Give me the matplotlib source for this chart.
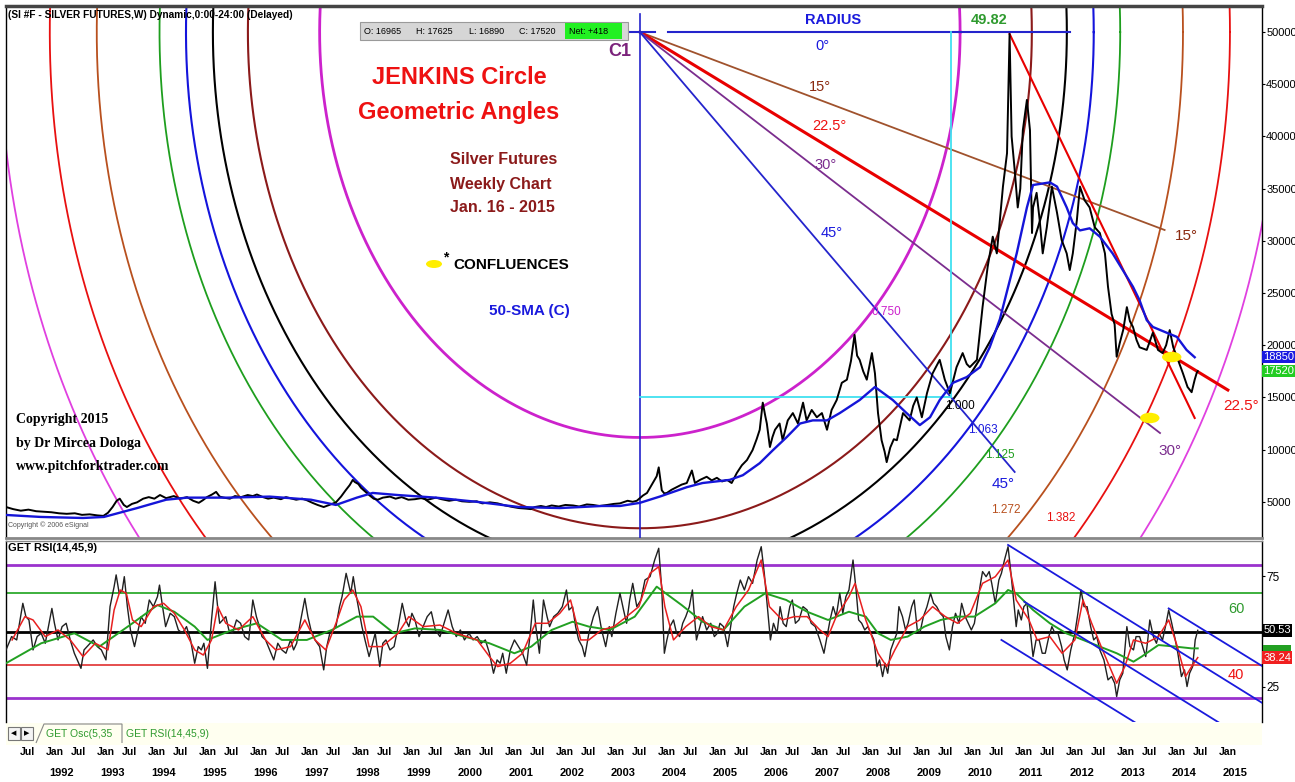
import numpy as np
import matplotlib
matplotlib.use('Agg')
import matplotlib.pyplot as plt
import matplotlib.transforms as mtransforms
from matplotlib import font_manager
from matplotlib.patches import Ellipse, Rectangle, Polygon

W, H = 1295, 782
_names = {f.name for f in font_manager.fontManager.ttflist}
NARROW = 'Liberation Sans Narrow' if 'Liberation Sans Narrow' in _names else 'Liberation Sans'
SERIF = 'Liberation Serif'

##### data #####

# weekly silver futures (close), cents*100 ; t = decimal year
price_t = [1991.61, 1991.75, 1991.90, 1992.05, 1992.20, 1992.35, 1992.50, 1992.65, 1992.80, 1992.96,
           1993.10, 1993.25, 1993.40, 1993.52, 1993.61, 1993.70, 1993.78, 1993.84, 1993.92, 1993.98,
           1994.08, 1994.18, 1994.30, 1994.41, 1994.52, 1994.63, 1994.75, 1994.90, 1995.03, 1995.16,
           1995.28, 1995.39, 1995.47, 1995.55, 1995.65, 1995.73, 1995.80, 1995.88, 1996.00, 1996.10,
           1996.22, 1996.35, 1996.45, 1996.53, 1996.65, 1996.75, 1996.86, 1997.00, 1997.10, 1997.18,
           1997.30, 1997.42, 1997.51, 1997.62, 1997.72, 1997.84, 1997.95, 1998.08, 1998.18, 1998.27,
           1998.35, 1998.41, 1998.45, 1998.52, 1998.57, 1998.65, 1998.73, 1998.82, 1998.90, 1999.00,
           1999.14, 1999.25, 1999.37, 1999.50, 1999.63, 1999.75, 1999.88, 2000.04, 2000.15, 2000.30,
           2000.43, 2000.55, 2000.70, 2000.84, 2000.95, 2001.10, 2001.25, 2001.40, 2001.55, 2001.67,
           2001.80, 2001.90, 2001.98, 2002.10, 2002.20, 2002.31, 2002.45, 2002.58, 2002.73, 2002.85,
           2003.00, 2003.12, 2003.25, 2003.40, 2003.53, 2003.65, 2003.80, 2003.90, 2003.98, 2004.10,
           2004.18, 2004.28, 2004.37, 2004.41, 2004.44, 2004.47, 2004.52, 2004.57, 2004.66, 2004.76,
           2004.86, 2004.96, 2005.06, 2005.12, 2005.22, 2005.35, 2005.45, 2005.55, 2005.65, 2005.75,
           2005.84, 2005.94, 2006.04, 2006.14, 2006.25, 2006.33, 2006.39, 2006.45, 2006.50, 2006.53,
           2006.59, 2006.64, 2006.69, 2006.78, 2006.84, 2006.94, 2007.04, 2007.14, 2007.24, 2007.31,
           2007.41, 2007.51, 2007.61, 2007.71, 2007.80, 2007.90, 2008.00, 2008.10, 2008.18, 2008.25,
           2008.30, 2008.35, 2008.42, 2008.49, 2008.59, 2008.65, 2008.71, 2008.78, 2008.84, 2008.88,
           2008.95, 2009.02, 2009.08, 2009.20, 2009.33, 2009.40, 2009.47, 2009.57, 2009.67, 2009.78,
           2009.92, 2010.02, 2010.12, 2010.25, 2010.37, 2010.45, 2010.51, 2010.65, 2010.76, 2010.86,
           2010.96, 2011.04, 2011.10, 2011.16, 2011.24, 2011.29, 2011.33, 2011.39, 2011.45, 2011.50,
           2011.55, 2011.63, 2011.69, 2011.73, 2011.75, 2011.82, 2011.88, 2011.94, 2012.02, 2012.12,
           2012.22, 2012.31, 2012.41, 2012.47, 2012.53, 2012.61, 2012.67, 2012.76, 2012.86, 2012.96,
           2013.06, 2013.16, 2013.22, 2013.29, 2013.35, 2013.39, 2013.45, 2013.52, 2013.59, 2013.65,
           2013.71, 2013.78, 2013.84, 2013.98, 2014.10, 2014.20, 2014.29, 2014.36, 2014.43, 2014.50,
           2014.57, 2014.69, 2014.78, 2014.86, 2014.92, 2014.96, 2014.98]
price_v = [4500, 4300, 4150, 4250, 4100, 4050, 4000, 3900, 3850, 3900,
           3750, 3800, 3700, 3650, 3950, 4500, 5100, 5300, 4700, 4500,
           4800, 4950, 5300, 5450, 5300, 5650, 5350, 5550, 5300, 5450,
           5100, 4900, 5150, 5450, 5700, 5950, 5500, 5400, 5300, 5550,
           5450, 5650, 5550, 5700, 5450, 5300, 5400, 5250, 5450, 5350,
           5200, 5300, 5150, 4900, 4700, 4500, 4700, 4950, 5500, 6100,
           6600, 7100, 6900, 6700, 6350, 6000, 5650, 5300, 5200, 5400,
           5500, 5300, 5450, 5200, 5250, 5350, 5200, 5400, 5250, 5100,
           5200, 5050, 5000, 5050, 4850, 4950, 4850, 4650, 4500, 4400,
           4350, 4300, 4500, 4600, 4500, 4650, 4550, 4700, 4650, 4550,
           4750, 4700, 4600, 4700, 4800, 4850, 5100, 5000, 5100, 5600,
           5850, 6700, 7450, 8300, 7200, 6100, 5800, 5850, 6150, 6400,
           6650, 6800, 8000, 6800, 7100, 7400, 7050, 7300, 6950, 7100,
           6800, 7750, 8500, 9000, 9950, 11000, 11900, 14500, 13200, 12500,
           10250, 11200, 11900, 12500, 10900, 12800, 13500, 12500, 14500, 12800,
           13800, 13100, 13500, 11900, 13800, 14750, 16400, 16700, 18500, 21000,
           19000, 18600, 17500, 16700, 19250, 17300, 13500, 10900, 9800, 8800,
           10200, 11000, 10900, 13500, 12800, 14200, 15000, 13100, 15400, 17300,
           18600, 16700, 15400, 17900, 19250, 18200, 17900, 18600, 23650, 27500,
           30400, 28800, 32000, 35200, 38400, 49820, 40000, 36800, 33200, 35000,
           40600, 43500, 40600, 30750, 33200, 34600, 32000, 28800, 31300, 35200,
           32700, 30100, 28800, 27200, 28800, 32000, 35200, 33900, 33200, 31300,
           30750, 28800, 25600, 23000, 22000, 18900, 20200, 21500, 23650, 22300,
           21750, 20500, 19800, 19550, 21200, 19550, 19250, 20000, 21450, 19800,
           18900, 17300, 16000, 15500, 16700, 17350, 17520]

# 50-SMA (C)
sma_t = [1991.61, 1992.29, 1993.12, 1993.53, 1994.18, 1994.75, 1995.16, 1995.96, 1996.78, 1997.59,
         1998.08, 1998.49, 1998.80, 1999.29, 2000.04, 2000.84, 2001.67, 2002.47, 2003.29, 2003.65,
         2004.04, 2004.43, 2004.96, 2005.27, 2005.80, 2006.06, 2006.39, 2006.65, 2006.92, 2007.18,
         2007.43, 2007.71, 2007.96, 2008.35, 2008.65, 2009.00, 2009.27, 2009.53, 2009.73, 2009.92,
         2010.18, 2010.45, 2010.71, 2010.90, 2011.10, 2011.43, 2011.63, 2011.75, 2012.08, 2012.22,
         2012.41, 2012.53, 2012.67, 2012.86, 2013.06, 2013.31, 2013.71, 2013.84, 2013.98, 2014.10,
         2014.37, 2014.57, 2014.76, 2014.92]
sma_v = [3740, 3550, 3450, 3550, 4400, 5200, 5400, 5400, 5500, 5200,
         4700, 5400, 5850, 5650, 5400, 5000, 4500, 4400, 4600, 4600,
         4900, 5500, 6400, 6800, 7100, 7550, 8700, 9950, 11200, 12500,
         12800, 12800, 13500, 14750, 16000, 14750, 13500, 12350, 13100, 14750,
         16400, 16950, 17900, 19800, 22500, 28800, 33200, 35350, 35600, 35200,
         33200, 31700, 31000, 31200, 30400, 28800, 25600, 24300, 22400, 21750,
         21200, 20800, 19550, 18850]

# GET RSI(14,45,9): raw line
rsi_t = [1991.61, 1991.72, 1991.82, 1991.94, 1992.00, 1992.06, 1992.14, 1992.22, 1992.30, 1992.38,
         1992.51, 1992.56, 1992.63, 1992.71, 1992.79, 1992.87, 1992.95, 1993.08, 1993.14, 1993.20,
         1993.32, 1993.40, 1993.48, 1993.57, 1993.65, 1993.73, 1993.77, 1993.83, 1993.89, 1993.93,
         1993.99, 1994.05, 1994.13, 1994.26, 1994.34, 1994.42, 1994.50, 1994.58, 1994.62, 1994.68,
         1994.74, 1994.83, 1994.91, 1994.99, 1995.07, 1995.15, 1995.23, 1995.31, 1995.38, 1995.44,
         1995.49, 1995.56, 1995.64, 1995.71, 1995.76, 1995.80, 1995.92, 1995.98, 1996.05, 1996.13,
         1996.21, 1996.29, 1996.37, 1996.45, 1996.52, 1996.58, 1996.63, 1996.70, 1996.78, 1996.86,
         1996.94, 1997.02, 1997.10, 1997.19, 1997.25, 1997.31, 1997.39, 1997.47, 1997.53, 1997.59,
         1997.67, 1997.76, 1997.84, 1997.90, 1997.96, 1998.08, 1998.15, 1998.20, 1998.28, 1998.37,
         1998.42, 1998.47, 1998.53, 1998.59, 1998.65, 1998.73, 1998.80, 1998.85, 1998.94, 1999.00,
         1999.06, 1999.14, 1999.22, 1999.30, 1999.38, 1999.45, 1999.51, 1999.57, 1999.63, 1999.71,
         1999.79, 1999.87, 1999.95, 2000.03, 2000.12, 2000.20, 2000.28, 2000.36, 2000.44, 2000.52,
         2000.60, 2000.69, 2000.77, 2000.85, 2000.93, 2001.01, 2001.09, 2001.17, 2001.24, 2001.30,
         2001.35, 2001.42, 2001.50, 2001.58, 2001.66, 2001.74, 2001.82, 2001.89, 2001.95, 2002.00,
         2002.07, 2002.15, 2002.22, 2002.27, 2002.35, 2002.43, 2002.52, 2002.60, 2002.65, 2002.72,
         2002.78, 2002.84, 2002.91, 2002.96, 2003.04, 2003.13, 2003.21, 2003.29, 2003.37, 2003.44,
         2003.49, 2003.57, 2003.65, 2003.72, 2003.78, 2003.84, 2003.90, 2003.98, 2004.06, 2004.14,
         2004.24, 2004.33, 2004.41, 2004.47, 2004.52, 2004.57, 2004.63, 2004.70, 2004.76, 2004.82,
         2004.88, 2004.94, 2005.01, 2005.07, 2005.11, 2005.15, 2005.20, 2005.27, 2005.35, 2005.43,
         2005.50, 2005.56, 2005.61, 2005.68, 2005.76, 2005.83, 2005.88, 2005.94, 2006.01, 2006.09,
         2006.17, 2006.25, 2006.34, 2006.42, 2006.48, 2006.54, 2006.60, 2006.66, 2006.73, 2006.79,
         2006.85, 2006.91, 2006.98, 2007.03, 2007.09, 2007.16, 2007.24, 2007.32, 2007.40, 2007.48,
         2007.57, 2007.65, 2007.71, 2007.77, 2007.83, 2007.89, 2007.96, 2008.02, 2008.08, 2008.14,
         2008.22, 2008.28, 2008.33, 2008.39, 2008.45, 2008.51, 2008.57, 2008.63, 2008.69, 2008.74,
         2008.80, 2008.85, 2008.90, 2008.96, 2009.03, 2009.08, 2009.12, 2009.19, 2009.25, 2009.30,
         2009.37, 2009.42, 2009.48, 2009.53, 2009.60, 2009.67, 2009.74, 2009.80, 2009.86, 2009.93,
         2009.99, 2010.04, 2010.11, 2010.17, 2010.23, 2010.30, 2010.35, 2010.42, 2010.48, 2010.54,
         2010.60, 2010.67, 2010.72, 2010.76, 2010.83, 2010.89, 2010.94, 2011.01, 2011.08, 2011.13,
         2011.19, 2011.26, 2011.31, 2011.35, 2011.42, 2011.46, 2011.52, 2011.57, 2011.63, 2011.68,
         2011.75, 2011.81, 2011.87, 2011.93, 2011.99, 2012.06, 2012.12, 2012.18, 2012.24, 2012.31,
         2012.36, 2012.42, 2012.49, 2012.57, 2012.63, 2012.69, 2012.75, 2012.81, 2012.88, 2012.94,
         2013.00, 2013.06, 2013.14, 2013.22, 2013.29, 2013.35, 2013.39, 2013.45, 2013.51, 2013.55,
         2013.59, 2013.65, 2013.72, 2013.77, 2013.84, 2013.90, 2013.96, 2014.00, 2014.04, 2014.11,
         2014.17, 2014.22, 2014.29, 2014.36, 2014.41, 2014.47, 2014.54, 2014.59, 2014.66, 2014.72,
         2014.77, 2014.82, 2014.88, 2014.93, 2014.98]
rsi_v = [41.7, 47.7, 46.2, 62.7, 56.7, 55.2, 41.7, 47.7, 49.2, 44.7,
         60.4, 53.7, 46.2, 52.2, 53.7, 46.2, 40.2, 33.4, 41.7, 43.2,
         46.2, 43.2, 41.7, 37.2, 61.2, 70.2, 75.5, 67.2, 68.7, 74.7,
         61.2, 50.7, 43.2, 56.7, 53.7, 64.2, 61.2, 65.7, 70.9, 61.2,
         52.2, 58.2, 56.7, 50.7, 49.2, 52.2, 46.2, 35.7, 43.2, 41.7,
         44.7, 33.4, 55.2, 72.4, 61.2, 53.7, 56.7, 50.7, 49.2, 55.2,
         53.7, 47.7, 46.2, 64.2, 56.7, 52.2, 47.7, 46.2, 41.7, 37.2,
         44.7, 41.7, 40.2, 46.2, 41.7, 44.7, 55.2, 64.9, 56.7, 50.7,
         46.2, 43.2, 32.7, 43.2, 49.2, 52.2, 61.2, 65.7, 76.2, 67.2,
         74.7, 67.2, 59.7, 52.2, 46.2, 38.7, 44.7, 49.2, 34.2, 44.7,
         46.2, 41.7, 43.2, 52.2, 62.7, 55.2, 52.2, 58.2, 55.2, 47.7,
         52.2, 56.7, 58.9, 50.7, 47.7, 53.7, 59.7, 52.2, 47.7, 50.7,
         46.2, 49.2, 46.2, 47.7, 44.7, 46.2, 40.2, 31.2, 37.2, 35.7,
         40.2, 31.2, 41.7, 46.2, 43.2, 40.2, 34.9, 49.2, 64.2, 52.2,
         40.2, 64.2, 56.7, 52.2, 56.7, 58.2, 61.2, 68.7, 59.7, 61.2,
         52.2, 46.2, 43.2, 38.7, 49.2, 56.7, 61.2, 50.7, 43.2, 52.2,
         47.7, 58.2, 67.2, 59.7, 53.7, 64.2, 71.7, 61.2, 64.2, 73.2,
         74.7, 82.2, 87.5, 68.7, 40.2, 46.2, 52.2, 55.2, 49.2, 47.7,
         53.7, 56.7, 61.2, 68.7, 56.7, 46.2, 50.7, 56.7, 50.7, 53.7,
         47.7, 49.2, 53.7, 52.2, 43.2, 53.7, 61.2, 67.2, 73.2, 68.7,
         74.7, 71.7, 82.2, 88.2, 76.2, 61.2, 46.2, 53.7, 49.2, 61.2,
         53.7, 52.2, 61.2, 64.2, 53.7, 55.2, 61.2, 59.7, 53.7, 52.2,
         46.2, 40.2, 47.7, 55.2, 61.2, 56.7, 67.2, 58.2, 65.7, 68.7,
         82.2, 68.7, 55.2, 53.7, 50.7, 52.2, 49.2, 46.2, 34.2, 37.2,
         29.7, 35.7, 31.2, 41.7, 46.2, 49.2, 61.2, 56.7, 50.7, 53.7,
         61.2, 64.2, 50.7, 49.2, 56.7, 61.2, 67.2, 62.7, 61.2, 58.2,
         56.7, 47.7, 41.7, 52.2, 58.2, 53.7, 62.7, 56.7, 53.7, 50.7,
         53.7, 64.2, 71.7, 77.0, 74.7, 77.0, 71.7, 62.7, 73.2, 76.2,
         82.2, 88.2, 77.7, 68.7, 52.2, 59.7, 55.2, 61.2, 62.7, 53.7,
         38.7, 46.2, 46.2, 40.2, 40.2, 47.7, 52.2, 49.2, 49.2, 43.2,
         37.2, 32.7, 41.7, 49.2, 58.2, 68.7, 61.2, 61.2, 52.2, 46.2,
         47.7, 41.7, 37.2, 28.2, 29.7, 26.7, 20.7, 28.2, 31.2, 41.7,
         52.2, 43.2, 41.7, 47.7, 47.7, 43.2, 38.7, 46.2, 55.2, 47.7,
         44.7, 49.2, 46.2, 53.7, 59.7, 53.7, 46.2, 40.2, 29.7, 32.7,
         25.2, 31.2, 34.2, 46.2, 50.53]

# signal line (red)
sig_t = [1991.73, 1991.98, 1992.14, 1992.38, 1992.63, 1992.87, 1993.12, 1993.36, 1993.61, 1993.73,
         1993.85, 1993.97, 1994.09, 1994.26, 1994.50, 1994.70, 1994.91, 1995.11, 1995.31, 1995.48,
         1995.64, 1995.76, 1995.92, 1996.17, 1996.45, 1996.70, 1996.90, 1997.19, 1997.47, 1997.67,
         1997.88, 1998.08, 1998.24, 1998.41, 1998.57, 1998.73, 1998.98, 1999.30, 1999.51, 1999.79,
         2000.12, 2000.44, 2000.85, 2001.09, 2001.25, 2001.50, 2001.74, 2001.99, 2002.23, 2002.47,
         2002.68, 2002.88, 2003.04, 2003.29, 2003.53, 2003.78, 2004.02, 2004.24, 2004.41, 2004.53,
         2004.70, 2004.94, 2005.19, 2005.43, 2005.68, 2005.93, 2006.17, 2006.42, 2006.58, 2006.83,
         2007.07, 2007.32, 2007.57, 2007.73, 2007.89, 2008.14, 2008.26, 2008.47, 2008.71, 2008.88,
         2009.04, 2009.29, 2009.53, 2009.78, 2010.03, 2010.27, 2010.52, 2010.76, 2011.01, 2011.26,
         2011.42, 2011.67, 2011.83, 2012.08, 2012.32, 2012.57, 2012.73, 2012.90, 2013.14, 2013.39,
         2013.55, 2013.72, 2013.96, 2014.21, 2014.41, 2014.58, 2014.74, 2014.86, 2014.98]
sig_v = [46.2, 56.7, 55.2, 47.7, 50.7, 46.2, 38.7, 44.7, 41.7, 59.7,
         68.7, 67.2, 55.2, 52.2, 61.2, 62.7, 58.2, 50.7, 41.7, 39.4,
         46.2, 61.2, 53.7, 50.7, 56.7, 46.2, 41.7, 43.2, 55.2, 46.2,
         41.7, 53.7, 64.2, 68.7, 61.2, 43.2, 43.2, 49.2, 56.7, 52.2,
         52.9, 49.2, 46.2, 38.7, 34.2, 35.7, 40.2, 53.7, 53.7, 58.2,
         64.2, 46.2, 46.2, 50.7, 52.2, 56.7, 61.2, 76.2, 79.2, 61.2,
         46.2, 52.2, 56.7, 52.2, 50.7, 61.2, 68.7, 82.2, 61.2, 55.2,
         56.7, 56.7, 50.7, 47.7, 56.7, 65.7, 71.7, 55.2, 40.2, 34.2,
         41.7, 52.2, 55.2, 61.2, 56.7, 53.7, 58.2, 71.7, 74.7, 82.2,
         64.2, 55.2, 46.2, 47.7, 40.2, 46.2, 64.2, 53.7, 40.2, 26.7,
         34.2, 46.2, 44.7, 47.7, 55.2, 43.2, 29.7, 34.2, 38.24]

# long average (green)
ma_t = [1991.61, 1992.30, 1992.95, 1993.44, 1994.09, 1994.58, 1994.91, 1995.31, 1995.56, 1996.05,
        1996.53, 1997.02, 1997.51, 1998.00, 1998.49, 1998.81, 1999.22, 1999.63, 2000.12, 2000.60,
        2001.09, 2001.58, 2001.91, 2002.31, 2002.72, 2003.04, 2003.45, 2003.94, 2004.37, 2004.86,
        2005.27, 2005.68, 2006.09, 2006.50, 2006.91, 2007.32, 2007.73, 2008.14, 2008.47, 2008.71,
        2008.96, 2009.29, 2009.62, 2009.94, 2010.27, 2010.60, 2011.01, 2011.26, 2011.42, 2011.75,
        2012.08, 2012.40, 2012.73, 2013.06, 2013.39, 2013.72, 2013.88, 2014.21, 2014.54, 2014.86,
        2014.98]
ma_v = [35.7, 44.7, 49.2, 43.2, 53.7, 61.9, 58.9, 52.2, 46.2, 50.7,
        53.7, 46.2, 46.2, 50.7, 56.7, 56.7, 49.2, 51.4, 50.7, 47.7,
        44.7, 40.2, 43.2, 50.7, 54.4, 52.2, 50.7, 56.7, 70.2, 61.9,
        54.4, 50.7, 61.2, 67.2, 64.2, 58.9, 55.2, 58.9, 56.7, 49.2,
        46.2, 47.7, 52.2, 55.2, 56.7, 56.7, 62.7, 68.7, 67.2, 59.7,
        53.7, 49.2, 46.2, 43.2, 40.2, 36.4, 38.7, 43.9, 43.2, 42.4,
        42.4]

rsi_levels = [80, 67.3, 50, 35, 20]
rsi_level_colors = ['#9A32CD', '#2EAA2E', 'black', '#E03030', '#9A32CD']
rsi_level_widths = [2.0, 1.3, 2.0, 1.2, 2.0]

# Jenkins circle: centre C1, unit radius (time, price) and ratios
c1_t, c1_p = 2004.04, 50000
unit_t, unit_p = 8.373, 51780
circle_ratios = [0.75, 0.918, 1.0, 1.063, 1.125, 1.272, 1.382, 1.5]
circle_colors = ['#CC22CC', '#8B1A1A', 'black', '#1414DC', '#1E9E1E', '#B8501E', '#E81010', '#E040E0']
circle_widths = [2.0, 1.5, 1.5, 1.5, 1.3, 1.3, 1.3, 1.3]

# rays from C1
ray_end_t = [2014.33, 2015.57, 2014.24, 2011.39]
ray_end_p = [31040, 15710, 11590, 7860]
ray_colors = ['#A0522D', '#E80000', '#7B2D8E', '#2424CC']
ray_widths = [1.3, 2.2, 1.3, 1.3]

# line from the 49.82 top
top_line_t = [2011.29, 2014.92]
top_line_p = [49820, 13030]

# radius line (0 deg), in two pieces
radius_t = [[2003.73, 2004.33], [2004.59, 2012.47]]
# cyan box
cyan_t, cyan_p = 2010.14, 15040

# confluences
conf_t = [2014.04, 2014.47]
conf_p = [13030, 18870]

# RSI down channel
chan_t0 = [2011.26, 2011.58, 2011.13, 2014.41]
chan_v0 = [89.0, 63.4, 46.2, 60.4]
chan_t1 = [2016.26, 2015.40, 2013.76, 2016.26]
chan_v1 = [17.6, 8.9, 8.9, 34.2]

price_ticks = [5000, 10000, 15000, 20000, 25000, 30000, 35000, 40000, 45000, 50000]
rsi_ticks = [25, 75]
years = list(range(1992, 2016))

##### figure #####
fig = plt.figure(figsize=(W / 100, H / 100), dpi=100)
fig.patch.set_facecolor('white')


def box(x0, y0, x1, y1):
    return [x0 / W, 1 - y1 / H, (x1 - x0) / W, (y1 - y0) / H]


def ftext(x, y, s, **kw):
    kw.setdefault('va', 'center')
    kw.setdefault('ha', 'center')
    kw.setdefault('family', NARROW)
    return fig.text(x / W, 1 - y / H, s, **kw)


ax = fig.add_axes(box(6, 6, 1262, 538))
axr = fig.add_axes(box(6, 541, 1262, 722), sharex=ax)

ax.set_xlim(1991.61, 2016.24)
ax.set_ylim(1533, 52498)
axr.set_ylim(9.23, 90.77)

# circles
theta = np.linspace(0, 2 * np.pi, 1441)
for k, col, lw in zip(circle_ratios, circle_colors, circle_widths):
    ax.plot(c1_t + unit_t * k * np.cos(theta), c1_p + unit_p * k * np.sin(theta),
            color=col, lw=lw, zorder=2)

# rays
for te, pe, col, lw in zip(ray_end_t, ray_end_p, ray_colors, ray_widths):
    ax.plot([c1_t, te], [c1_p, pe], color=col, lw=lw, zorder=3)
ax.plot(top_line_t, top_line_p, color='#E80000', lw=1.5, zorder=3)
for seg in radius_t:
    ax.plot(seg, [c1_p, c1_p], color='#2424CC', lw=1.5, zorder=3)
ax.plot([c1_t, c1_t], [51700, 0], color='#2424CC', lw=1.2, zorder=3)
ax.plot([cyan_t, cyan_t], [c1_p, cyan_p], color='#40E0F0', lw=1.3, zorder=3)
ax.plot([c1_t, cyan_t], [cyan_p, cyan_p], color='#40E0F0', lw=1.3, zorder=3)

# price and SMA
ax.plot(price_t, price_v, color='black', lw=1.4, zorder=5)
ax.plot(sma_t, sma_v, color='#1515D8', lw=1.7, zorder=6)

for t, p in zip(conf_t, conf_p):
    ax.add_patch(Ellipse((t, p), 0.38, 1000, fc='#FFEE00', ec='none', zorder=7))

# axes cosmetics
for a in (ax, axr):
    a.set_xticks([])
    a.yaxis.tick_right()
    a.tick_params(axis='y', length=2, pad=1, labelsize=8, direction='out')
    for s in a.spines.values():
        s.set_color('black')
        s.set_linewidth(1)
ax.spines['top'].set_linewidth(2.5)
ax.spines['top'].set_color('#444444')
ax.spines['bottom'].set_color('#888888')
ax.spines['bottom'].set_linewidth(2)
axr.spines['top'].set_color('#888888')
axr.spines['bottom'].set_visible(False)

ax.set_yticks(price_ticks)
ax.set_yticklabels([str(v) for v in price_ticks], family=NARROW, fontsize=8)
axr.set_yticks(rsi_ticks)
axr.set_yticklabels([str(v) for v in rsi_ticks], family=NARROW, fontsize=8.5)

# price tags on right axis
tr = mtransforms.blended_transform_factory(ax.transAxes, ax.transData)
ax.text(1.001, sma_v[-1], str(sma_v[-1]), transform=tr, ha='left', va='center', fontsize=8,
        family=NARROW, color='white', clip_on=False, zorder=10,
        bbox=dict(boxstyle='square,pad=0.1', fc='#1A1AE0', ec='none'))
ax.text(1.001, price_v[-1], str(price_v[-1]), transform=tr, ha='left', va='center', fontsize=8,
        family=NARROW, color='white', clip_on=False, zorder=10,
        bbox=dict(boxstyle='square,pad=0.1', fc='#22CC22', ec='none'))

# RSI panel
for lv, col, lw in zip(rsi_levels, rsi_level_colors, rsi_level_widths):
    axr.axhline(lv, color=col, lw=lw, zorder=2)
axr.plot(ma_t, ma_v, color='#22A022', lw=1.4, zorder=4)
axr.plot(rsi_t, rsi_v, color='#202020', lw=1.0, zorder=3)
axr.plot(sig_t, sig_v, color='#E82020', lw=1.1, zorder=5)
for t0, v0, t1, v1 in zip(chan_t0, chan_v0, chan_t1, chan_v1):
    axr.plot([t0, t1], [v0, v1], color='#1A1ADD', lw=1.3, zorder=6)

trr = mtransforms.blended_transform_factory(axr.transAxes, axr.transData)
axr.add_patch(Rectangle((1.0008, sig_v[-1]), 0.022, ma_v[-1] + 1.6 - sig_v[-1], transform=trr,
                        fc='#22A022', ec='none', clip_on=False, zorder=9))
axr.text(1.001, sig_v[-1], '%.2f' % sig_v[-1], transform=trr, ha='left', va='center', fontsize=8,
         family=NARROW, color='white', clip_on=False, zorder=10,
         bbox=dict(boxstyle='square,pad=0.12', fc='#F02020', ec='none'))
axr.text(1.001, rsi_v[-1], '%.2f' % rsi_v[-1], transform=trr, ha='left', va='center', fontsize=8,
         family=NARROW, color='white', clip_on=False, zorder=10,
         bbox=dict(boxstyle='square,pad=0.12', fc='black', ec='none'))

# tab bar and date labels
fig.add_artist(Rectangle((6 / W, 1 - 745 / H), 1256 / W, 22 / H, transform=fig.transFigure,
                         fc='#FFFFF0', ec='none', zorder=0))
for x0 in (8, 21):
    fig.add_artist(Rectangle((x0 / W, 1 - 740 / H), 12 / W, 13 / H, transform=fig.transFigure,
                             fc='#F4F4F4', ec='#777777', lw=0.8))
ftext(14, 733, '\u25c0', fontsize=5, family='DejaVu Sans')
ftext(27, 733, '\u25b6', fontsize=5, family='DejaVu Sans')
fig.add_artist(Polygon([(36 / W, 1 - 743 / H), (44 / W, 1 - 724 / H), (122 / W, 1 - 724 / H),
                        (122 / W, 1 - 743 / H)], closed=False, transform=fig.transFigure,
                       fill=False, ec='#888888', lw=0.8))
ftext(46, 734, 'GET Osc(5,35', ha='left', fontsize=7.5, color='#2E9A2E')
ftext(126, 734, 'GET RSI(14,45,9)', ha='left', fontsize=7.5, color='#2E9A2E')

trx = mtransforms.blended_transform_factory(axr.transData, fig.transFigure)
for yr in years:
    fig.text(yr + 0.569, 1 - 752 / H, 'Jan', transform=trx, ha='center', va='center',
             fontsize=7.5, family=NARROW, fontweight='bold')
    fig.text(yr + 0.706, 1 - 773 / H, str(yr), transform=trx, ha='center', va='center',
             fontsize=8, family=NARROW, fontweight='bold')
for yr in [years[0] - 1] + years[:-1]:
    fig.text(yr + 1.039, 1 - 752 / H, 'Jul', transform=trx, ha='center', va='center',
             fontsize=7.5, family=NARROW, fontweight='bold')

# header and OHLC box
ftext(8, 15, '(SI #F - SILVER FUTURES,W) Dynamic,0:00-24:00 (Delayed)', ha='left',
      fontsize=7.3, fontweight='bold')
fig.add_artist(Rectangle((360 / W, 1 - 40 / H), 268 / W, 18 / H, transform=fig.transFigure,
                         fc='#D6D6D6', ec='#9A9A9A', lw=0.8))
fig.add_artist(Rectangle((565 / W, 1 - 39 / H), 57 / W, 16 / H, transform=fig.transFigure,
                         fc='#22F022', ec='none'))
for x, s in [(364, 'O: 16965'), (416, 'H: 17625'), (469, 'L: 16890'), (519, 'C: 17520'),
             (569, 'Net: +418')]:
    ftext(x, 31, s, ha='left', fontsize=6.5)

# annotations
ftext(459, 78, 'JENKINS Circle', fontsize=17, fontweight='bold', color='#EE1111')
ftext(459, 113, 'Geometric Angles', fontsize=17, fontweight='bold', color='#EE1111')
ftext(504, 159, 'Silver Futures', fontsize=11.5, fontweight='bold', color='#8B1A1A')
ftext(501, 184, 'Weekly Chart', fontsize=11.5, fontweight='bold', color='#8B1A1A')
ftext(502, 208, 'Jan. 16 - 2015', fontsize=11.5, fontweight='bold', color='#8B1A1A')
fig.add_artist(Ellipse((434 / W, 1 - 264 / H), 16 / W, 8 / H, transform=fig.transFigure,
                       fc='#FFEE00', ec='none'))
ftext(446, 257, '*', fontsize=10, fontweight='bold')
ftext(453, 265, 'CONFLUENCES', ha='left', fontsize=11, fontweight='bold')
ftext(529, 311, '50-SMA (C)', fontsize=11, fontweight='bold', color='#1A1ADD')
ftext(620, 52, 'C1', fontsize=13, fontweight='bold', color='#7B237B')
ftext(833, 20, 'RADIUS', fontsize=10.5, fontweight='bold', color='#1A1ADD')
ftext(989, 20, '49.82', fontsize=10.5, fontweight='bold', color='#2E9A2E')
ftext(822, 46, '0\u00b0', fontsize=10.5, color='#1A1ADD')
ftext(820, 87, '15\u00b0', fontsize=10.5, color='#8B2A10')
ftext(829, 126, '22.5\u00b0', fontsize=10.5, color='#EE1111')
ftext(826, 165, '30\u00b0', fontsize=10.5, color='#7B2D8E')
ftext(832, 233, '45\u00b0', fontsize=10.5, color='#1A1ADD')
ftext(1186, 236, '15\u00b0', fontsize=11, color='#8B2A10')
ftext(1241, 406, '22.5\u00b0', fontsize=11, color='#EE1111')
ftext(1170, 451, '30\u00b0', fontsize=11, color='#7B2D8E')
ftext(1003, 484, '45\u00b0', fontsize=11, color='#1A1ADD')
ftext(886, 312, '0.750', fontsize=8.5, color='#CC22CC')
ftext(960, 406, '1.000', fontsize=8.5, color='black')
ftext(983, 430, '1.063', fontsize=8.5, color='#1A1ADD')
ftext(1000, 455, '1.125', fontsize=8.5, color='#1E9E1E')
ftext(1006, 510, '1.272', fontsize=8.5, color='#B8501E')
ftext(1061, 518, '1.382', fontsize=8.5, color='#E81010')
ftext(16, 420, 'Copyright 2015', ha='left', fontsize=10, fontweight='bold', family=SERIF)
ftext(16, 443, 'by Dr Mircea Dologa', ha='left', fontsize=10, fontweight='bold', family=SERIF)
ftext(16, 466, 'www.pitchforktrader.com', ha='left', fontsize=10, fontweight='bold', family=SERIF)
ftext(8, 525, 'Copyright \u00a9 2006 eSignal', ha='left', fontsize=5, color='#555555')
ftext(8, 548, 'GET RSI(14,45,9)', ha='left', fontsize=8, fontweight='bold')
ftext(1236, 609, '60', fontsize=10.5, color='#2E9A2E')
ftext(1236, 675, '40', fontsize=10.5, color='#EE1111')

fig.savefig('out.png', dpi=100, facecolor='white')
